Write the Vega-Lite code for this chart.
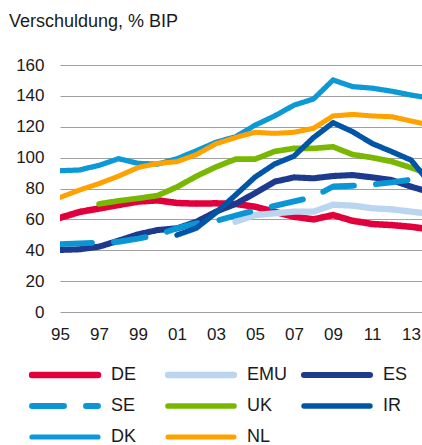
{
"$schema": "https://vega.github.io/schema/vega-lite/v6.json",
"autosize": "none",
"width": 362,
"height": 247,
"padding": {"left": 60, "top": 65, "right": 0, "bottom": 133},
"background": "white",
"title": {"text": "Verschuldung, % BIP", "anchor": "start", "frame": "group", "dx": -51, "fontSize": 18, "font": "Liberation Sans", "fontWeight": "normal", "color": "#1a1a1a", "offset": 25},
"config": {"view": {"stroke": null}, "font": "Liberation Sans"},
"data": {"values": [
{"Land":"DE","Jahr":1995,"Wert":61},{"Land":"DE","Jahr":1996,"Wert":64.8},{"Land":"DE","Jahr":1997,"Wert":67},{"Land":"DE","Jahr":1998,"Wert":69.3},{"Land":"DE","Jahr":1999,"Wert":71.5},{"Land":"DE","Jahr":2000,"Wert":72.3},{"Land":"DE","Jahr":2001,"Wert":70.6},{"Land":"DE","Jahr":2002,"Wert":70.2},{"Land":"DE","Jahr":2003,"Wert":70.4},{"Land":"DE","Jahr":2004,"Wert":70},{"Land":"DE","Jahr":2005,"Wert":68.2},{"Land":"DE","Jahr":2006,"Wert":65},{"Land":"DE","Jahr":2007,"Wert":61.7},{"Land":"DE","Jahr":2008,"Wert":60},{"Land":"DE","Jahr":2009,"Wert":62.8},{"Land":"DE","Jahr":2010,"Wert":59.1},{"Land":"DE","Jahr":2011,"Wert":57},{"Land":"DE","Jahr":2012,"Wert":56.3},{"Land":"DE","Jahr":2013,"Wert":55.2},{"Land":"DE","Jahr":2014,"Wert":53.4},
{"Land":"EMU","Jahr":2004,"Wert":58.5},{"Land":"EMU","Jahr":2005,"Wert":62.8},{"Land":"EMU","Jahr":2006,"Wert":63.9},{"Land":"EMU","Jahr":2007,"Wert":65},{"Land":"EMU","Jahr":2008,"Wert":65},{"Land":"EMU","Jahr":2009,"Wert":69.5},{"Land":"EMU","Jahr":2010,"Wert":68.9},{"Land":"EMU","Jahr":2011,"Wert":67.2},{"Land":"EMU","Jahr":2012,"Wert":66.5},{"Land":"EMU","Jahr":2013,"Wert":65},{"Land":"EMU","Jahr":2014,"Wert":63.5},
{"Land":"ES","Jahr":1995,"Wert":40.2},{"Land":"ES","Jahr":1996,"Wert":40.6},{"Land":"ES","Jahr":1997,"Wert":42.3},{"Land":"ES","Jahr":1998,"Wert":46.2},{"Land":"ES","Jahr":1999,"Wert":50.3},{"Land":"ES","Jahr":2000,"Wert":53.1},{"Land":"ES","Jahr":2001,"Wert":54.2},{"Land":"ES","Jahr":2002,"Wert":58.5},{"Land":"ES","Jahr":2003,"Wert":65},{"Land":"ES","Jahr":2004,"Wert":70},{"Land":"ES","Jahr":2005,"Wert":77},{"Land":"ES","Jahr":2006,"Wert":84.4},{"Land":"ES","Jahr":2007,"Wert":87.2},{"Land":"ES","Jahr":2008,"Wert":86.6},{"Land":"ES","Jahr":2009,"Wert":88.1},{"Land":"ES","Jahr":2010,"Wert":88.7},{"Land":"ES","Jahr":2011,"Wert":87.2},{"Land":"ES","Jahr":2012,"Wert":85.5},{"Land":"ES","Jahr":2013,"Wert":81.2},{"Land":"ES","Jahr":2014,"Wert":77.5},
{"Land":"SE","Jahr":1995,"Wert":44},{"Land":"SE","Jahr":1996,"Wert":44.5},{"Land":"SE","Jahr":1997,"Wert":45},{"Land":"SE","Jahr":1998,"Wert":45.5},{"Land":"SE","Jahr":1999,"Wert":47.5},{"Land":"SE","Jahr":2000,"Wert":50},{"Land":"SE","Jahr":2001,"Wert":54.3},{"Land":"SE","Jahr":2002,"Wert":57.4},{"Land":"SE","Jahr":2003,"Wert":59},{"Land":"SE","Jahr":2004,"Wert":62.5},{"Land":"SE","Jahr":2005,"Wert":65.8},{"Land":"SE","Jahr":2006,"Wert":68.8},{"Land":"SE","Jahr":2007,"Wert":71.7},{"Land":"SE","Jahr":2008,"Wert":74.5},{"Land":"SE","Jahr":2009,"Wert":81.3},{"Land":"SE","Jahr":2010,"Wert":81.8},{"Land":"SE","Jahr":2011,"Wert":82.5},{"Land":"SE","Jahr":2012,"Wert":84},{"Land":"SE","Jahr":2013,"Wert":85.8},{"Land":"SE","Jahr":2014,"Wert":87},
{"Land":"UK","Jahr":1997,"Wert":70},{"Land":"UK","Jahr":1998,"Wert":72},{"Land":"UK","Jahr":1999,"Wert":73.6},{"Land":"UK","Jahr":2000,"Wert":75.4},{"Land":"UK","Jahr":2001,"Wert":81},{"Land":"UK","Jahr":2002,"Wert":88},{"Land":"UK","Jahr":2003,"Wert":94},{"Land":"UK","Jahr":2004,"Wert":99},{"Land":"UK","Jahr":2005,"Wert":99},{"Land":"UK","Jahr":2006,"Wert":104},{"Land":"UK","Jahr":2007,"Wert":106},{"Land":"UK","Jahr":2008,"Wert":106},{"Land":"UK","Jahr":2009,"Wert":107},{"Land":"UK","Jahr":2010,"Wert":102},{"Land":"UK","Jahr":2011,"Wert":100},{"Land":"UK","Jahr":2012,"Wert":97.5},{"Land":"UK","Jahr":2013,"Wert":93.5},{"Land":"UK","Jahr":2014,"Wert":89},
{"Land":"IR","Jahr":2001,"Wert":49.9},{"Land":"IR","Jahr":2002,"Wert":54.4},{"Land":"IR","Jahr":2003,"Wert":64.4},{"Land":"IR","Jahr":2004,"Wert":75.8},{"Land":"IR","Jahr":2005,"Wert":87.4},{"Land":"IR","Jahr":2006,"Wert":95.8},{"Land":"IR","Jahr":2007,"Wert":101},{"Land":"IR","Jahr":2008,"Wert":113},{"Land":"IR","Jahr":2009,"Wert":122.6},{"Land":"IR","Jahr":2010,"Wert":116.8},{"Land":"IR","Jahr":2011,"Wert":109.2},{"Land":"IR","Jahr":2012,"Wert":103.9},{"Land":"IR","Jahr":2013,"Wert":98.4},{"Land":"IR","Jahr":2014,"Wert":83},
{"Land":"DK","Jahr":1995,"Wert":91.5},{"Land":"DK","Jahr":1996,"Wert":92},{"Land":"DK","Jahr":1997,"Wert":95},{"Land":"DK","Jahr":1998,"Wert":99.3},{"Land":"DK","Jahr":1999,"Wert":96.3},{"Land":"DK","Jahr":2000,"Wert":95.8},{"Land":"DK","Jahr":2001,"Wert":99.3},{"Land":"DK","Jahr":2002,"Wert":104.5},{"Land":"DK","Jahr":2003,"Wert":110},{"Land":"DK","Jahr":2004,"Wert":113.5},{"Land":"DK","Jahr":2005,"Wert":121},{"Land":"DK","Jahr":2006,"Wert":127},{"Land":"DK","Jahr":2007,"Wert":134},{"Land":"DK","Jahr":2008,"Wert":138},{"Land":"DK","Jahr":2009,"Wert":150.3},{"Land":"DK","Jahr":2010,"Wert":146},{"Land":"DK","Jahr":2011,"Wert":145},{"Land":"DK","Jahr":2012,"Wert":143},{"Land":"DK","Jahr":2013,"Wert":140.5},{"Land":"DK","Jahr":2014,"Wert":138.5},
{"Land":"NL","Jahr":1995,"Wert":74.2},{"Land":"NL","Jahr":1996,"Wert":79},{"Land":"NL","Jahr":1997,"Wert":83.2},{"Land":"NL","Jahr":1998,"Wert":88},{"Land":"NL","Jahr":1999,"Wert":93.6},{"Land":"NL","Jahr":2000,"Wert":96.2},{"Land":"NL","Jahr":2001,"Wert":97.4},{"Land":"NL","Jahr":2002,"Wert":102},{"Land":"NL","Jahr":2003,"Wert":109},{"Land":"NL","Jahr":2004,"Wert":113},{"Land":"NL","Jahr":2005,"Wert":116.4},{"Land":"NL","Jahr":2006,"Wert":115.7},{"Land":"NL","Jahr":2007,"Wert":116.4},{"Land":"NL","Jahr":2008,"Wert":119},{"Land":"NL","Jahr":2009,"Wert":127},{"Land":"NL","Jahr":2010,"Wert":128},{"Land":"NL","Jahr":2011,"Wert":127},{"Land":"NL","Jahr":2012,"Wert":126.5},{"Land":"NL","Jahr":2013,"Wert":123.7},{"Land":"NL","Jahr":2014,"Wert":121}
]},
"mark": {"type": "line", "strokeCap": "round", "strokeJoin": "round", "clip": true},
"encoding": {
"x": {"field": "Jahr", "type": "quantitative", "scale": {"domain": [1995, 2013.56], "nice": false, "zero": false},
 "axis": {"values": [1995, 1997, 1999, 2001, 2003, 2005, 2007, 2009, 2011, 2013], "labelExpr": "slice(toString(datum.value), 2)", "title": null, "grid": false, "ticks": false, "domain": false, "labelFlush": false, "labelOverlap": false, "labelFontSize": 17, "labelColor": "#1a1a1a", "labelPadding": 14, "labelFont": "Liberation Sans"}},
"y": {"field": "Wert", "type": "quantitative", "scale": {"domain": [0, 160], "nice": false},
 "axis": {"values": [0, 20, 40, 60, 80, 100, 120, 140, 160], "title": null, "ticks": false, "domain": false, "gridColor": "#a0a0a0", "gridWidth": 1.2, "labelFontSize": 17, "labelPadding": 16, "labelColor": "#1a1a1a", "labelFont": "Liberation Sans"}},
"color": {"field": "Land", "type": "nominal",
 "scale": {"domain": ["DE", "EMU", "ES", "SE", "UK", "IR", "DK", "NL"], "range": ["#e2003c", "#b9d5f0", "#1d3a8f", "#0a96d4", "#78b800", "#0055a6", "#0b9ad6", "#ffa200"]},
 "legend": {"orient": "none", "direction": "horizontal", "legendX": -31.5, "legendY": 301, "columns": 3, "title": null, "symbolType": "stroke", "symbolSize": 4356, "symbolStrokeWidth": 5, "labelFontSize": 18, "labelFont": "Liberation Sans", "labelColor": "#1a1a1a", "labelOffset": 9.5, "columnPadding": 13, "rowPadding": 13, "clipHeight": 18, "gridAlign": "all", "padding": 0, "encode": {"symbols": {"update": {"strokeCap": {"value": "round"}}}}}},
"strokeDash": {"field": "Land", "type": "nominal",
 "scale": {"domain": ["DE", "EMU", "ES", "SE", "UK", "IR", "DK", "NL"], "range": [[1, 0], [1, 0], [1, 0], [32, 22], [1, 0], [1, 0], [1, 0], [1, 0]]}},
"strokeWidth": {"field": "Land", "type": "nominal",
 "scale": {"domain": ["DE", "EMU", "ES", "SE", "UK", "IR", "DK", "NL"], "range": [6.5, 5, 5, 5, 5, 5, 5, 5]}}
}
}
